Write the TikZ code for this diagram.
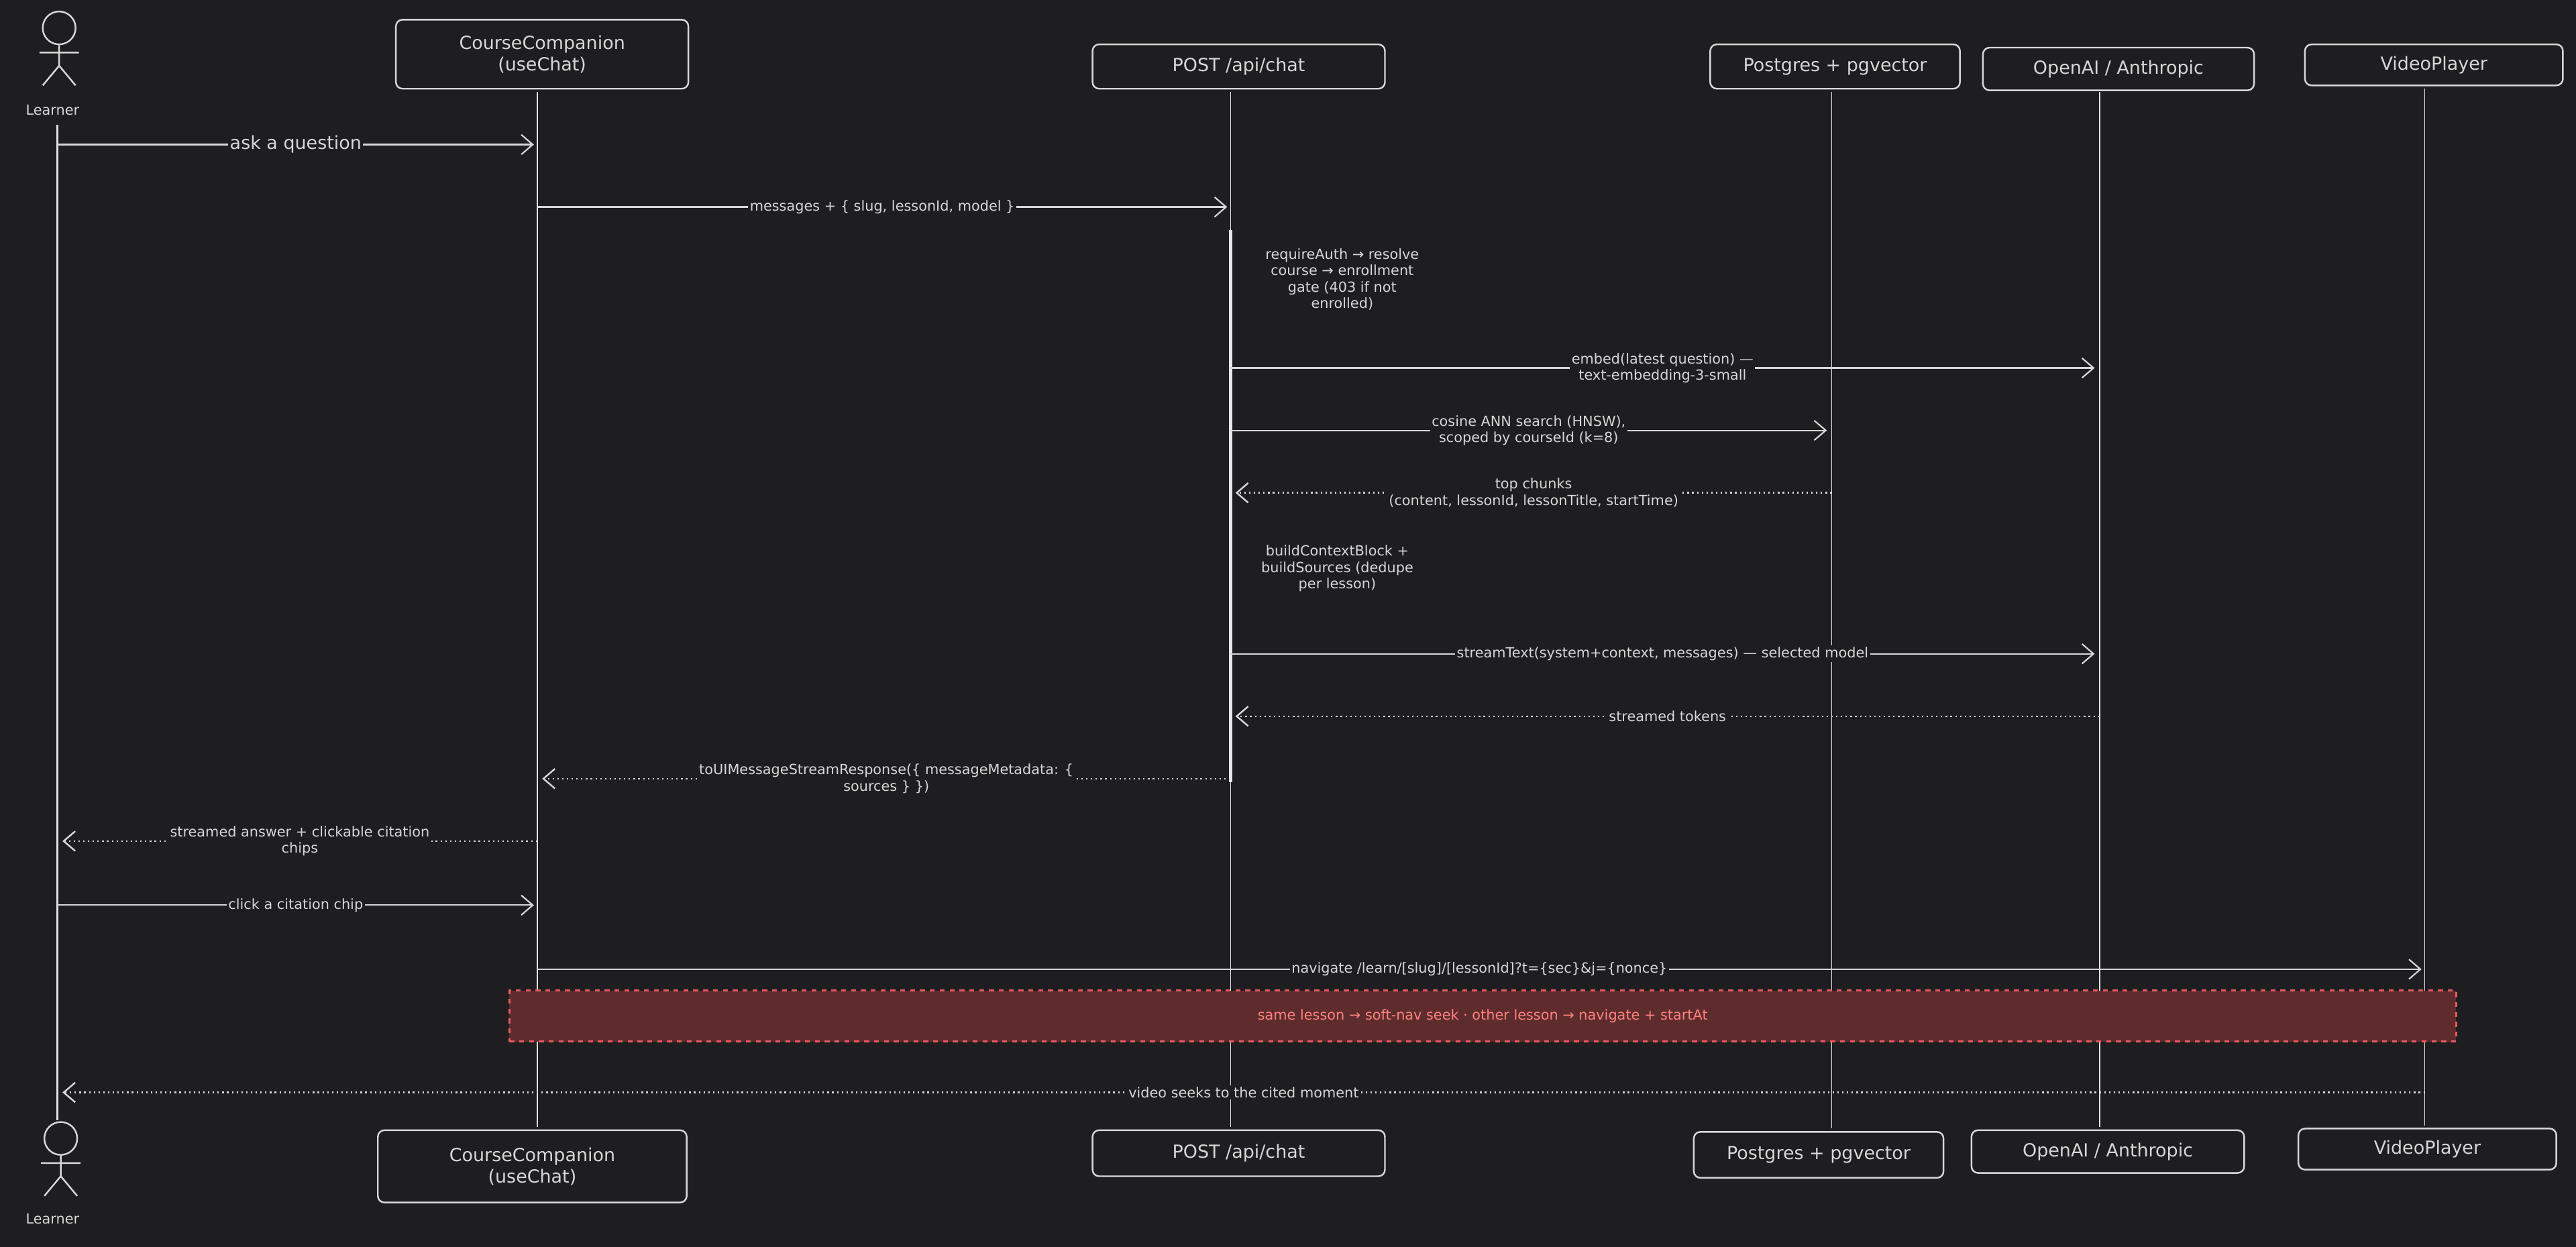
\documentclass[tikz,border=0pt]{standalone}
\usepackage{fontspec}
\setmainfont{DejaVu Sans}
\usetikzlibrary{arrows.meta}
\definecolor{bg}{RGB}{30,30,32}
\definecolor{ln}{RGB}{215,215,215}
\definecolor{redf}{RGB}{94,44,44}
\definecolor{redl}{RGB}{232,90,100}
\definecolor{redt}{RGB}{255,130,130}
\begin{document}
\begin{tikzpicture}[x=1pt,y=-1pt,
  every node/.style={text=ln,font=\fontsize{8.5}{10}\selectfont},
  box/.style={draw=ln,line width=1pt,rounded corners=4pt,align=center,inner sep=0pt,font=\fontsize{11}{13}\selectfont},
  life/.style={draw=ln!70,line width=0.6pt},
  msg/.style={draw=ln,line width=0.9pt,-{Straight Barb[length=7pt,width=12pt]}},
  ret/.style={msg,dotted,line width=1pt},
  lab/.style={fill=bg,inner sep=1pt,align=center},
  note/.style={align=center}]
\fill[bg] (0,0) rectangle (1568,759);
\useasboundingbox (0,0) rectangle (1568,759);
% top boxes
\node[box,minimum width=178pt,minimum height=42pt] (cct) at (330,33) {CourseCompanion\\(useChat)};
\node[box,minimum width=178pt,minimum height=27pt] (pt) at (754,40.5) {POST /api/chat};
\node[box,minimum width=152pt,minimum height=27pt] (pgt) at (1117,40.5) {Postgres + pgvector};
\node[box,minimum width=165pt,minimum height=26pt] (oat) at (1289.5,42) {OpenAI / Anthropic};
\node[box,minimum width=157pt,minimum height=25pt] (vpt) at (1481.5,39.5) {VideoPlayer};
% bottom boxes
\node[box,minimum width=188pt,minimum height=44pt] (ccb) at (324,710) {CourseCompanion\\(useChat)};
\node[box,minimum width=178pt,minimum height=28pt] (pb) at (754,702) {POST /api/chat};
\node[box,minimum width=152pt,minimum height=28pt] (pgb) at (1107,703) {Postgres + pgvector};
\node[box,minimum width=166pt,minimum height=26pt] (oab) at (1283,701) {OpenAI / Anthropic};
\node[box,minimum width=157pt,minimum height=25pt] (vpb) at (1477.5,699.5) {VideoPlayer};
% actors
\begin{scope}[draw=ln,line width=1pt]
\draw (36,17) circle (10);
\draw (36,27) -- (36,40) (24,32) -- (48,32) (36,40) -- (26,52) (36,40) -- (46,52);
\draw (37,693) circle (10);
\draw (37,703) -- (37,716) (25,708) -- (49,708) (37,716) -- (27,728) (37,716) -- (47,728);
\end{scope}
\node (lt) at (32,67) {Learner};
\node (lb) at (32,742) {Learner};
% lifelines
\coordinate (L1) at (35,76); \coordinate (L2) at (35,682);
\draw[life,line width=1pt] (L1) -- (L2);
\draw[life] (327,56) -- (327,686);
\draw[life] (749,56) -- (749,686);
\draw[ln!60,line width=2pt] (749,140) -- (749,476);
\draw[life] (1115,56) -- (1115,687);
\draw[life] (1278,56) -- (1278,686);
\draw[life] (1476,54) -- (1476,685);
% coordinates on lifelines
\foreach \n/\x in {a/35,c/327,p/749,g/1115,o/1278,v/1476}{
  \foreach \y in {88,126,224,262,300,398,436,474,512,551,590,665}{\coordinate (\n\y) at (\x,\y);}}
% messages
\draw[msg] (a88) -- ([xshift=-2pt]c88) node[lab,midway,font=\fontsize{11}{13}\selectfont] {ask a question};
\draw[msg] (c126) -- ([xshift=-2pt]p126) node[lab,midway] {messages + \{ slug, lessonId, model \}};
\node[note] (n1) at (817,170) {requireAuth → resolve\\course → enrollment\\gate (403 if not\\enrolled)};
\draw[msg] (p224) -- ([xshift=-3pt]o224) node[lab,pos=0.5] {embed(latest question) —\\text-embedding-3-small};
\draw[msg] (p262) -- ([xshift=-3pt]g262) node[lab,midway] {cosine ANN search (HNSW),\\scoped by courseId (k=8)};
\draw[ret] (g300) -- ([xshift=3pt]p300) node[lab,midway] {top chunks\\(content, lessonId, lessonTitle, startTime)};
\node[note] (n2) at (814,346) {buildContextBlock +\\buildSources (dedupe\\per lesson)};
\draw[msg] (p398) -- ([xshift=-3pt]o398) node[lab,midway] {streamText(system+context, messages) — selected model};
\draw[ret] (o436) -- ([xshift=3pt]p436) node[lab,midway] {streamed tokens};
\draw[ret] (p474) -- ([xshift=3pt]c474) node[lab,pos=0.5] {toUIMessageStreamResponse(\{ messageMetadata: \{\\sources \} \})};
\draw[ret] (c512) -- ([xshift=3pt]a512) node[lab,midway] {streamed answer + clickable citation\\chips};
\draw[msg] (a551) -- ([xshift=-2pt]c551) node[lab,midway] {click a citation chip};
\draw[msg] (c590) -- ([xshift=-2pt]v590) node[lab,pos=0.5] {navigate /learn/[slug]/[lessonId]?t=\{sec\}\&j=\{nonce\}};
\node[draw=redl,fill=redf,dashed,line width=1.2pt,minimum width=1185pt,minimum height=31pt,text=redt] (rb) at (902.5,618.5) {same lesson → soft-nav seek · other lesson → navigate + startAt};
\draw[ret] (v665) -- ([xshift=3pt]a665) node[lab,midway] {video seeks to the cited moment};
\end{tikzpicture}
\end{document}
